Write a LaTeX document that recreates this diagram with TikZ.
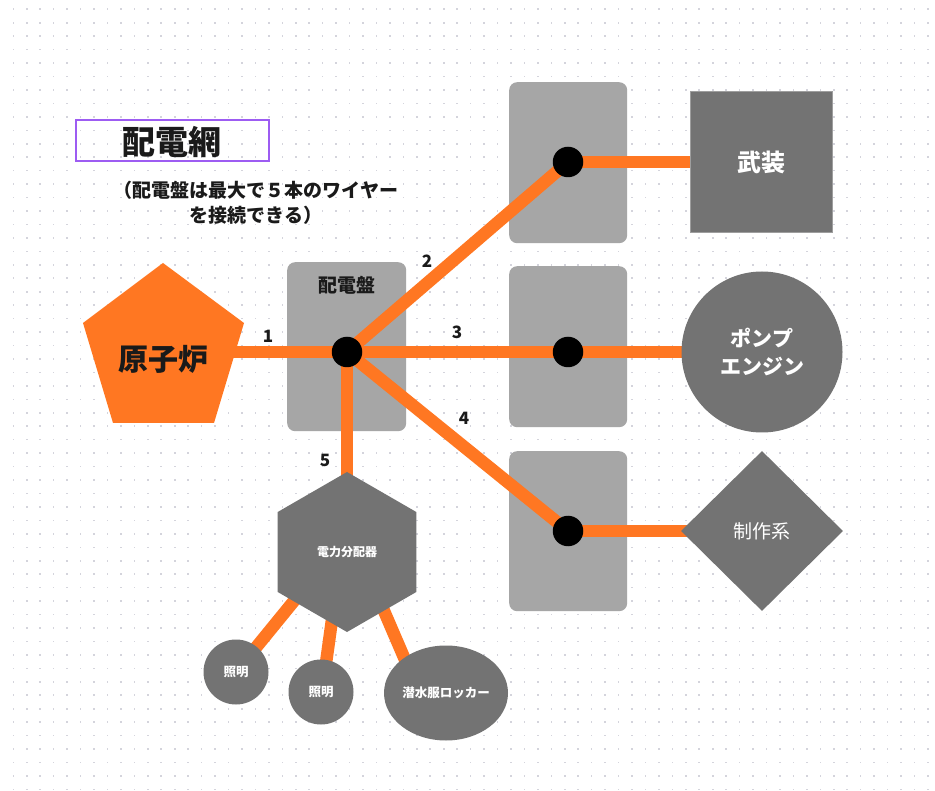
\documentclass[tikz,border=0pt]{standalone}
\usepackage{fontspec}
\setmainfont{Noto Sans CJK JP}
\usetikzlibrary{shapes.geometric}
\definecolor{wire}{HTML}{FF7722}
\definecolor{boxgray}{HTML}{A6A6A6}
\definecolor{shapegray}{HTML}{737373}
\definecolor{edgegray}{HTML}{9E9E9E}
\definecolor{titlepurple}{HTML}{9D5CF2}
\definecolor{griddot}{HTML}{D4D4DC}
\definecolor{inkdark}{HTML}{1A1A1A}
\pgfdeclarelayer{gridlayer}
\pgfdeclarelayer{boxlayer}
\pgfdeclarelayer{wirelayer}
\pgfsetlayers{gridlayer,boxlayer,wirelayer,main}
\begin{document}
\begin{tikzpicture}[x=1pt,y=-1pt,
  wireline/.style={draw=wire, line width=12.5pt},
  swbox/.style={fill=boxgray, rounded corners=8pt, inner sep=0pt, anchor=north west},
  hubdot/.style={circle, fill=black, minimum size=30.5pt, inner sep=0pt},
  darkshape/.style={fill=shapegray, text=white, inner sep=0pt, align=center},
  numlabel/.style={font=\bfseries\fontsize{17}{20}\selectfont, text=inkdark, anchor=base, inner sep=0pt}]

\useasboundingbox (0,0) rectangle (935,791);
\begin{pgfonlayer}{gridlayer}
\fill[white] (0,0) rectangle (935,791);
\foreach \i in {0,...,68} {
  \foreach \j in {0,...,58} {
    \fill[griddot] (12.5+13.45*\i, 8.5+13.45*\j) rectangle ++(1.6,1.6);
  }
}
\end{pgfonlayer}

% switchboard boxes
\begin{pgfonlayer}{boxlayer}
\node[swbox, minimum width=119pt, minimum height=169pt] (sbmain) at (287,262) {};
\node[swbox, minimum width=118pt, minimum height=161pt] (sbtop) at (509,82) {};
\node[swbox, minimum width=118pt, minimum height=161pt] (sbmid) at (509,266) {};
\node[swbox, minimum width=118pt, minimum height=160pt] (sbbot) at (509,451) {};
\node[font=\bfseries\fontsize{19}{22}\selectfont, text=inkdark] (sblabel) at (347,285) {配電盤};
\end{pgfonlayer}

% reactor pentagon
\coordinate (rc) at (163,352);
\fill[wire] (163,263) -- (244,323) -- (214,423) -- (113,423) -- (83,323) -- cycle;
\node[font=\bfseries\fontsize{30}{34}\selectfont, text=inkdark] (reactor) at (163,359) {原子炉};

% hub and junction dots
\node[hubdot] (hub) at (347,352) {};
\node[hubdot] (d1) at (568,162) {};
\node[hubdot] (d2) at (568,352) {};
\node[hubdot] (d3) at (568,531) {};

% consumers
\node[darkshape, draw=edgegray, line width=1pt, rectangle, minimum width=142pt, minimum height=141pt,
      font=\bfseries\fontsize{24}{28}\selectfont] (weapon) at (761.5,162) {武装};
\node[darkshape, circle, minimum size=161pt,
      font=\bfseries\fontsize{21}{28}\selectfont] (pump) at (762,352) {ポンプ\\エンジン};
\node[darkshape, diamond, minimum width=162pt, minimum height=160pt,
      font=\fontsize{19}{22}\selectfont] (craft) at (762,531) {制作系};
\node[darkshape, regular polygon, regular polygon sides=6, regular polygon rotate=30, minimum size=160pt,
      font=\bfseries\fontsize{12}{14}\selectfont] (hex) at (347,552) {電力分配器};
\node[darkshape, circle, minimum size=65pt, font=\bfseries\fontsize{12.5}{14}\selectfont] (light1) at (236,672) {照明};
\node[darkshape, circle, minimum size=65pt, font=\bfseries\fontsize{12.5}{14}\selectfont] (light2) at (321,692) {照明};
\node[darkshape, ellipse, minimum width=124pt, minimum height=95pt, font=\bfseries\fontsize{12.5}{14}\selectfont] (locker) at (446,693) {潜水服ロッカー};

% wire end points inside the distributor and locker
\coordinate (h1) at (307,585);
\coordinate (h2) at (335,598);
\coordinate (h3) at (372,583);
\coordinate (l2e) at (322,692);
\coordinate (l3e) at (412,676);

% wires
\begin{pgfonlayer}{wirelayer}
\draw[wireline] (rc) -- (hub.center);
\draw[wireline] (hub.center) -- (d1.center);
\draw[wireline] (hub.center) -- (d2.center);
\draw[wireline] (hub.center) -- (d3.center);
\draw[wireline] (hub.center) -- (hex.center);
\draw[wireline] (d1.center) -- (weapon.center);
\draw[wireline] (d2.center) -- (pump.center);
\draw[wireline] (d3.center) -- (craft.center);
\draw[wireline] (h1) -- (light1.center);
\draw[wireline] (h2) -- (l2e);
\draw[wireline] (h3) -- (l3e);
\end{pgfonlayer}

% wire numbers
\node[numlabel] (n1) at (268,343) {1};
\node[numlabel] (n2) at (427,268) {2};
\node[numlabel] (n3) at (457,339) {3};
\node[numlabel] (n4) at (464,425) {4};
\node[numlabel] (n5) at (325,467) {5};

% title
\draw[titlepurple, line width=1.6pt] (76,120) rectangle (269,161);
\node[font=\bfseries\fontsize{33}{36}\selectfont, text=inkdark] (title) at (172,142) {配電網};
\node[font=\bfseries\fontsize{19}{25}\selectfont, text=inkdark, align=center] (subtitle) at (256,203)
  {（配電盤は最大で５本のワイヤー\\を接続できる）};
\end{tikzpicture}
\end{document}
